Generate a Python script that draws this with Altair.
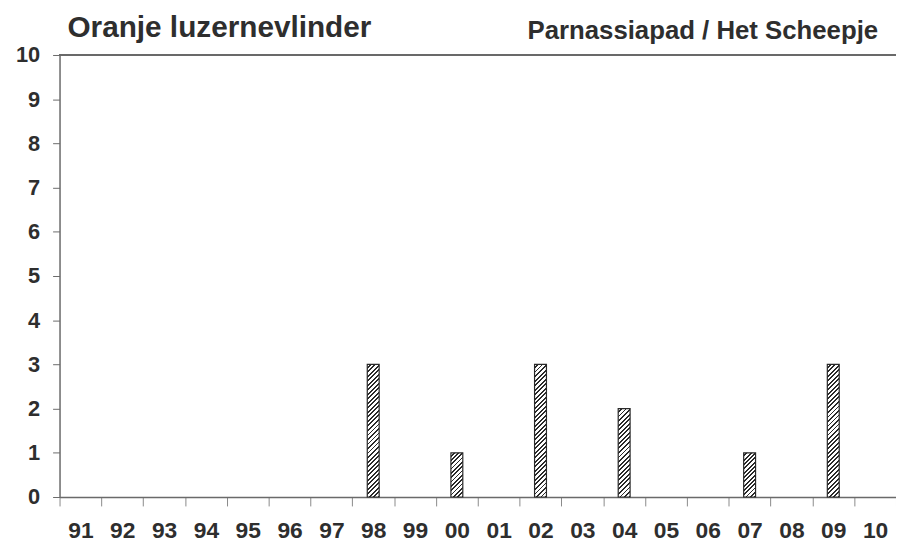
import math
import altair as alt
import pandas as pd

# ---- data ----
years = ["91", "92", "93", "94", "95", "96", "97", "98", "99", "00",
         "01", "02", "03", "04", "05", "06", "07", "08", "09", "10"]
counts = [0, 0, 0, 0, 0, 0, 0, 3, 0, 1,
          0, 3, 0, 2, 0, 0, 1, 0, 3, 0]
y_ticks = list(range(0, 11))
title_left = "Oranje luzernevlinder"
title_right = "Parnassiapad / Het Scheepje"

# ---- layout / style ----
PLOT_W = 844
PLOT_H = 446
BAR_W = 12
FONT = "Liberation Sans"
TEXT_COLOR = "#2e2e2e"
LINE_COLOR = "#6a6a6a"
DARK = "#2a2a2a"
LIGHT = "#ffffff"
PERIOD = 3.2  # hatch period in px (perpendicular)

unit_px = PLOT_H / 10.0

df = pd.DataFrame({"year": years, "count": counts})


def hatch(h_units):
    H = h_units * unit_px
    r = BAR_W / H
    b = (1 + r) / (1 + r * r)
    a = r * b
    L = (BAR_W + H) / math.sqrt(2)
    n = max(1, int(round(L / PERIOD)))
    stops = []
    for k in range(n):
        o0 = k / n
        o1 = (k + 0.58) / n
        o2 = (k + 1) / n
        stops += [
            alt.GradientStop(offset=o0, color=LIGHT),
            alt.GradientStop(offset=o1, color=LIGHT),
            alt.GradientStop(offset=o1, color=DARK),
            alt.GradientStop(offset=o2, color=DARK),
        ]
    return alt.LinearGradient(gradient="linear", stops=stops,
                              x1=0, y1=0, x2=a, y2=b)


x_enc = alt.X(
    "year:N",
    sort=years,
    scale=alt.Scale(domain=years, paddingInner=0, paddingOuter=0),
    axis=alt.Axis(
        title=None, labelAngle=0, labelFont=FONT, labelFontSize=23,
        labelFontWeight="bold", labelColor=TEXT_COLOR, tickBand="extent",
        tickSize=9, tickColor="#8a8a8a", tickWidth=1, domainColor=LINE_COLOR,
        domainWidth=1.5, labelPadding=14,
    ),
)
y_enc = alt.Y(
    "count:Q",
    scale=alt.Scale(domain=[0, 10], nice=False, zero=True),
    axis=alt.Axis(
        title=None, values=y_ticks, grid=False, labelFont=FONT, labelFontSize=22,
        labelFontWeight="bold", labelColor=TEXT_COLOR, tickSize=7,
        tickColor=LINE_COLOR, tickWidth=1, domainColor=LINE_COLOR, domainWidth=1.5,
        labelPadding=13,
    ),
)

base = alt.Chart(df)

top_line = base.mark_rule(color=LINE_COLOR, strokeWidth=1.5).encode(
    y=alt.datum(10)
)

bar_layers = []
for v in sorted(set(c for c in counts if c > 0)):
    bar_layers.append(
        base.transform_filter(alt.datum["count"] == v)
        .mark_bar(size=BAR_W, fill=hatch(v), stroke=DARK, strokeWidth=1.2)
        .encode(x=x_enc, y=y_enc)
    )

left_txt = alt.Chart(pd.DataFrame({"t": [title_left]})).mark_text(
    font=FONT, fontSize=30, fontWeight="bold", color=TEXT_COLOR,
    align="left", baseline="alphabetic",
).encode(text="t:N", x=alt.value(8), y=alt.value(-18))

right_txt = alt.Chart(pd.DataFrame({"t": [title_right]})).mark_text(
    font=FONT, fontSize=26, fontWeight="bold", color=TEXT_COLOR,
    align="right", baseline="alphabetic",
).encode(text="t:N", x=alt.value(826), y=alt.value(-16))

axes_layer = base.mark_bar(opacity=0).encode(x=x_enc, y=y_enc)

chart = (
    alt.layer(axes_layer, top_line, *bar_layers, left_txt, right_txt)
    .properties(
        width=PLOT_W,
        height=PLOT_H,
        autosize=alt.AutoSizeParams(type="none"),
        padding={"left": 52, "top": 45, "right": 0, "bottom": 47},
        background="white",
    )
    .configure_view(stroke="transparent")
)

chart.save("out.html", embed_options={"renderer": "svg", "actions": False})
